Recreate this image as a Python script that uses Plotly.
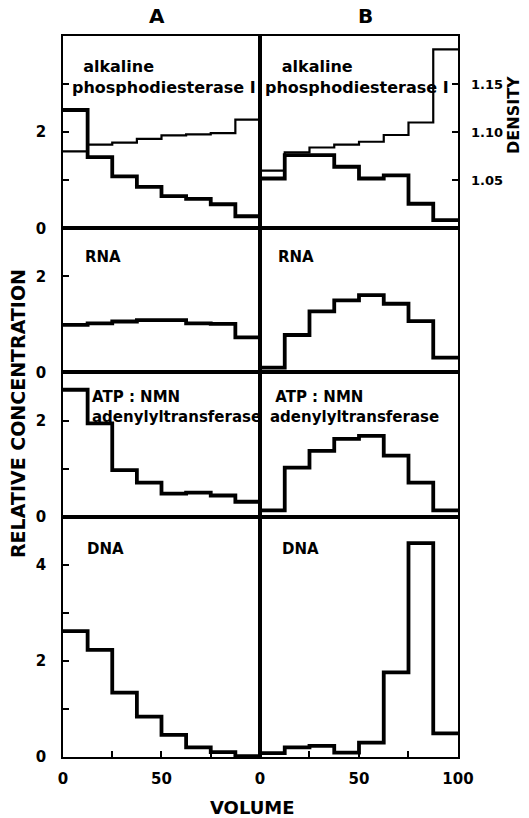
import plotly.graph_objects as go

# Fraction volume (bin edges, 8 fractions of 12.5 each)
volume_edges = [0, 12.5, 25, 37.5, 50, 62.5, 75, 87.5, 100]

# Relative concentration per fraction, column A and column B
phosphodiesterase_A = [2.46, 1.48, 1.08, 0.86, 0.67, 0.61, 0.50, 0.25]
phosphodiesterase_B = [1.035, 1.52, 1.52, 1.28, 1.035, 1.10, 0.51, 0.17]
rna_A = [0.99, 1.02, 1.06, 1.09, 1.09, 1.02, 1.01, 0.73]
rna_B = [0.10, 0.78, 1.27, 1.50, 1.61, 1.43, 1.07, 0.31]
atp_nmn_A = [2.64, 1.94, 0.97, 0.71, 0.48, 0.50, 0.44, 0.31]
atp_nmn_B = [0.13, 1.02, 1.37, 1.62, 1.68, 1.27, 0.71, 0.13]
dna_A = [2.62, 2.23, 1.34, 0.84, 0.46, 0.20, 0.10, 0.02]
dna_B = [0.08, 0.20, 0.23, 0.09, 0.30, 1.76, 4.45, 0.49]

# Gradient density per fraction (g/ml)
density_A = [1.080, 1.087, 1.089, 1.093, 1.0966, 1.0976, 1.099, 1.113]
density_B = [1.060, 1.079, 1.084, 1.087, 1.090, 1.097, 1.110, 1.186]

# Panel labels per row, for columns A and B
panel_labels = [
    ("&nbsp;&nbsp;alkaline<br>phosphodiesterase I",
     "&nbsp;&nbsp;&nbsp;alkaline<br>phosphodiesterase I"),
    ("RNA", "RNA"),
    ("ATP : NMN<br>adenylyltransferase",
     "&nbsp;ATP : NMN<br>adenylyltransferase"),
    ("DNA", "DNA"),
]
y_tops = [4, 3, 3, 5]
density_ticks = [1.05, 1.10, 1.15]

FONT = "DejaVu Sans"
BLACK = "black"

rows = [
    (phosphodiesterase_A, phosphodiesterase_B),
    (rna_A, rna_B),
    (atp_nmn_A, atp_nmn_B),
    (dna_A, dna_B),
]

# Row domains proportional to y extents so that units share one scale
total = sum(y_tops)
domains = []
top = 1.0
for t in y_tops:
    h = t / total
    domains.append([max(top - h, 0.0), top])
    top -= h

col_domains = [[0.0, 0.4987], [0.4987, 1.0]]

fig = go.Figure()
layout = {}


def step_y(vals):
    return list(vals) + [vals[-1]]


def bold(size):
    return dict(family=FONT, size=size, color=BLACK, weight="bold")


for r, (vals_a, vals_b) in enumerate(rows):
    for c, vals in enumerate((vals_a, vals_b)):
        k = r * 2 + c + 1
        xname = "x" if k == 1 else f"x{k}"
        yname = "y" if k == 1 else f"y{k}"
        fig.add_trace(go.Scatter(
            x=volume_edges, y=step_y(vals), mode="lines", line_shape="hv",
            line=dict(color=BLACK, width=3.8), xaxis=xname, yaxis=yname,
            showlegend=False, hoverinfo="skip"))

        ykey = "yaxis" if k == 1 else f"yaxis{k}"
        xkey = "xaxis" if k == 1 else f"xaxis{k}"
        yt = y_tops[r]
        yax = dict(domain=domains[r], range=[0, yt], anchor=xname,
                   showline=True, mirror=True, linecolor=BLACK, linewidth=1.8,
                   showgrid=False, zeroline=False, fixedrange=True)
        if c == 0:
            vals_t = list(range(0, yt + 1 if r == 3 else yt))
            yax.update(tickmode="array", tickvals=vals_t,
                       ticktext=[str(v) if v % 2 == 0 else "" for v in vals_t],
                       ticks="inside", ticklen=6, tickwidth=1.5, tickcolor=BLACK,
                       ticklabelstandoff=12, tickfont=bold(15))
        else:
            yax.update(showticklabels=False, ticks="")
        layout[ykey] = yax

        xax = dict(domain=col_domains[c], range=[0, 100], anchor=yname,
                   showline=True, mirror=True, linecolor=BLACK, linewidth=1.8,
                   showgrid=False, zeroline=False, fixedrange=True)
        if r == 3:
            xax.update(tickmode="array", tickvals=[0, 25, 50, 75, 100],
                       ticktext=["0", "", "50", "", "100" if c == 1 else ""],
                       ticks="inside", ticklen=6, tickwidth=1.5, tickcolor=BLACK,
                       ticklabelstandoff=7, tickfont=bold(15))
        else:
            xax.update(showticklabels=False, ticks="")
        layout[xkey] = xax

# Density lines on overlaid axes in the top row
fig.add_trace(go.Scatter(
    x=volume_edges, y=step_y(density_A), mode="lines", line_shape="hv",
    line=dict(color=BLACK, width=2.2), xaxis="x", yaxis="y9",
    showlegend=False, hoverinfo="skip"))
fig.add_trace(go.Scatter(
    x=volume_edges, y=step_y(density_B), mode="lines", line_shape="hv",
    line=dict(color=BLACK, width=2.2), xaxis="x2", yaxis="y10",
    showlegend=False, hoverinfo="skip"))

layout["yaxis9"] = dict(overlaying="y", range=[1.0, 1.2], visible=False,
                        fixedrange=True)
layout["yaxis10"] = dict(overlaying="y2", side="right", anchor="x2",
                         range=[1.0, 1.2], tickmode="array",
                         tickvals=density_ticks,
                         ticktext=[f"{v:.2f}" for v in density_ticks],
                         ticks="inside", ticklen=6, tickwidth=1.5,
                         tickcolor=BLACK, showline=False, showgrid=False,
                         zeroline=False, ticklabelstandoff=12, fixedrange=True,
                         tickfont=bold(13))

annotations = []

# Panel labels (x, y in each panel's data coordinates)
label_pos = [
    [(3.8, 3.15), (1.5, 3.15)],
    [(10.2, 2.41), (8.2, 2.41)],
    [(13.5, 2.28), (4.1, 2.28)],
    [(11.2, 4.33), (10.2, 4.33)],
]
for r in range(4):
    for c in range(2):
        k = r * 2 + c + 1
        lx, ly = label_pos[r][c]
        annotations.append(dict(
            x=lx, y=ly, xref="x" if k == 1 else f"x{k}",
            yref="y" if k == 1 else f"y{k}", text=panel_labels[r][c],
            showarrow=False, xanchor="left", yanchor="middle", align="left",
            font=bold(16 if r == 0 else 15)))

# Column headers and axis titles
common = dict(xref="paper", yref="paper", showarrow=False,
              xanchor="center", yanchor="middle")
annotations += [
    dict(x=0.238, y=1.0277, text="A", font=bold(20), **common),
    dict(x=0.767, y=1.0277, text="B", font=bold(20), **common),
    dict(x=-0.1139, y=0.4757, text="RELATIVE CONCENTRATION", textangle=-90,
         font=bold(19), **common),
    dict(x=1.139, y=0.8904, text="DENSITY", textangle=-90, font=bold(16),
         **common),
    dict(x=0.481, y=-0.0707, text="VOLUME", font=bold(18), **common),
]

fig.update_layout(
    width=529, height=818, autosize=False,
    margin=dict(l=63, r=71, t=36, b=61),
    paper_bgcolor="white", plot_bgcolor="white",
    annotations=annotations, **layout)

fig.write_html("out.html")
